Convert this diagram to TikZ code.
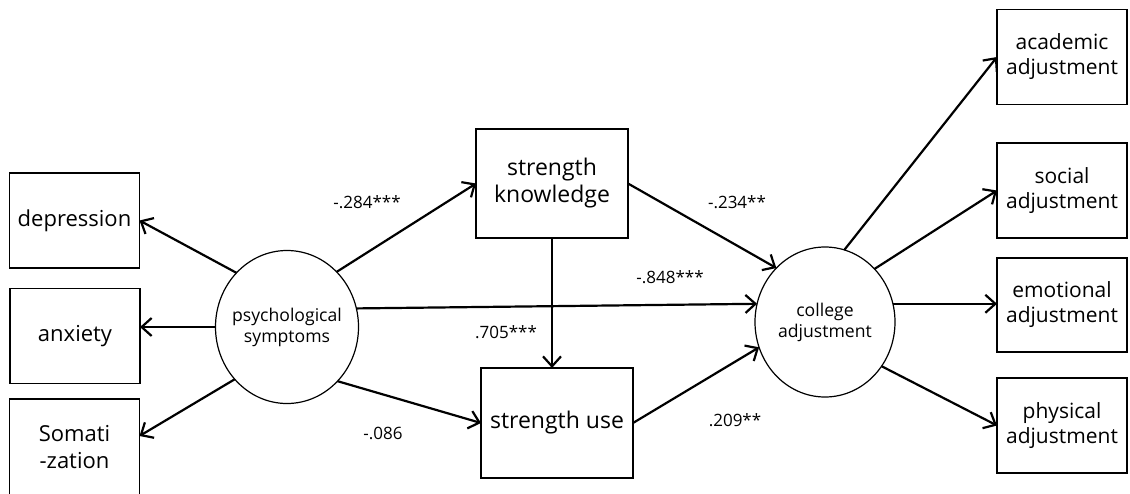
\documentclass[tikz,border=0pt]{standalone}
\usepackage{fontspec}
\setmainfont{Open Sans}
\usetikzlibrary{arrows.meta, shapes.geometric}

\begin{document}
\begin{tikzpicture}[x=0.5pt, y=-0.5pt,
    box/.style={draw, line width=0.6pt, minimum width=65pt, minimum height=47.5pt,
      align=center, inner sep=0pt, outer sep=0pt, font=\fontsize{10.5}{12.5}\selectfont},
    bigbox/.style={box, font=\fontsize{11.5}{13.5}\selectfont},
    latent/.style={draw, ellipse, line width=0.6pt, align=center, inner sep=-6pt,
      outer sep=0pt, font=\fontsize{8.8}{10.5}\selectfont},
    effect/.style={-{Straight Barb[length=5pt,width=9pt]}, line width=1.1pt},
    coef/.style={inner sep=0pt, font=\fontsize{8.5}{10}\selectfont}]

    \useasboundingbox (0,0) rectangle (1130,493);

    % ===================================================
    % 1. PSYCHOLOGICAL SYMPTOMS (LEFT)
    % ===================================================
    \node[latent, minimum width=71.5pt, minimum height=76.5pt] (psy) at (287, 327) {psychological\\symptoms};

    \node[box, font=\fontsize{11}{13}\selectfont] (dep) at (74.5, 220.5) {depression};
    \node[box, font=\fontsize{11}{13}\selectfont] (anx) at (75, 336) {anxiety};
    \node[box, font=\fontsize{11}{13.5}\selectfont, minimum height=48pt] (som) at (74.5, 447) {Somati\\-zation};

    \draw[effect] (psy.133) -- (dep.east);
    \draw[effect] (psy.west) -- (psy.west -| anx.east);
    \draw[effect] (psy.225) -- (som.north east |- 0,436);

    % ===================================================
    % 2. STRENGTH KNOWLEDGE & STRENGTH USE (MIDDLE)
    % ===================================================
    \node[bigbox, minimum width=76pt, minimum height=54.5pt] (sk) at (552, 183.5) {strength\\knowledge};
    \node[bigbox, minimum width=76pt, minimum height=55pt] (su) at (557, 423) {strength use};

    \draw[effect] (psy.48) -- (sk.west);
    \draw[effect] (psy.313) -- (su.west);
    \draw[effect] (sk.south) -- (sk.south |- su.north);

    % ===================================================
    % 3. COLLEGE ADJUSTMENT (RIGHT)
    % ===================================================
    \node[latent, minimum width=70pt, minimum height=75pt] (col) at (825, 322) {college\\adjustment};

    \draw[effect] (psy.15) -- (col.165);
    \draw[effect] (sk.east) -- (col.132);
    \draw[effect] (su.east) -- (col.201);

    \node[box] (acad) at (1062, 57) {academic\\adjustment};
    \node[box] (soc) at (1062, 190.5) {social\\adjustment};
    \node[box, minimum height=47pt] (emo) at (1062, 305) {emotional\\adjustment};
    \node[box] (phy) at (1062, 425.5) {physical\\adjustment};

    \draw[effect] (col.75) -- (acad.west);
    \draw[effect] (col.47) -- (soc.west);
    \draw[effect] (col.15) -- (col.15 -| emo.west);
    \draw[effect] (col.322) -- (phy.west);

    % coefficients
    \node[coef] (c1) at (367, 202) {-.284***};
    \node[coef] (c2) at (737, 202) {-.234**};
    \node[coef] (c3) at (670, 277) {-.848***};
    \node[coef] (c4) at (506, 332) {.705***};
    \node[coef] (c5) at (383, 433) {-.086};
    \node[coef] (c6) at (735, 420) {.209**};

\end{tikzpicture}
\end{document}
